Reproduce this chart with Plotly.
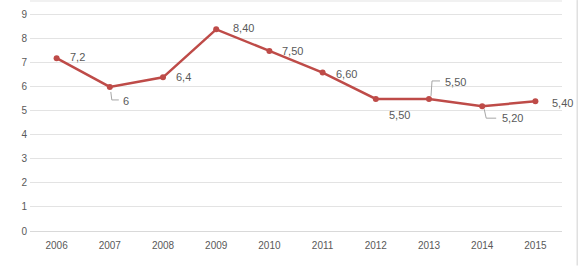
import plotly.graph_objects as go

years = ["2006", "2007", "2008", "2009", "2010", "2011", "2012", "2013", "2014", "2015"]
values = [7.2, 6.0, 6.4, 8.4, 7.5, 6.6, 5.5, 5.5, 5.2, 5.4]
labels = ["7,2", "6", "6,4", "8,40", "7,50", "6,60", "5,50", "5,50", "5,20", "5,40"]
# label offsets in pixels (dx, dy) relative to the point
offsets = [(21, 1), (16, -14), (20, 0), (27, 1), (23, 0), (24, -1), (24, -16), (26, 17), (30, -12), (27, -2)]
leaders = {1: "M 1,-5 L 2,-13 L 9,-13", 7: "M 2,3 L 3,18 L 11,18", 8: "M 2,-3 L 4,-12 L 14,-12"}

LINE = "#BE4B48"
GRID = "#E3E3E3"
TXT = "#595959"

fig = go.Figure()
fig.add_trace(go.Scatter(
    x=years, y=values, mode="lines+markers",
    line=dict(color=LINE, width=2.5),
    marker=dict(color=LINE, size=6),
    hoverinfo="skip",
))

for i, (yr, v, t) in enumerate(zip(years, values, labels)):
    dx, dy = offsets[i]
    fig.add_annotation(x=i, y=v, xref="x", yref="y", text=t, showarrow=False,
                       xshift=dx, yshift=dy, font=dict(size=11, color=TXT, family="Liberation Sans"))
    if i in leaders:
        fig.add_shape(type="path", xref="x", yref="y", xsizemode="pixel", ysizemode="pixel",
                      xanchor=i, yanchor=v, path=leaders[i],
                      line=dict(color="#A6A6A6", width=1))

fig.add_shape(type="line", xref="paper", yref="paper", x0=0, x1=1, y0=1, y1=1,
              line=dict(color=GRID, width=1))
# chart frame edge on the right
fig.add_shape(type="line", xref="paper", yref="paper", x0=1.0285, x1=1.0285, y0=-0.15, y1=1.004,
              line=dict(color="#D0D0D0", width=1))

fig.update_layout(
    width=583, height=266,
    margin=dict(l=30, r=21, t=1, b=35),
    paper_bgcolor="white", plot_bgcolor="white",
    showlegend=False,
    xaxis=dict(type="category", range=[-0.5, len(years) - 0.5], showgrid=False, showline=True,
               linecolor="#D9D9D9",
               tickfont=dict(size=10, color=TXT, family="Liberation Sans"), ticks="",
               ticklabelstandoff=5),
    yaxis=dict(range=[0, 9.58], dtick=1, tick0=0, showgrid=True, gridcolor=GRID, gridwidth=1,
               zeroline=False, tickfont=dict(size=10, color=TXT, family="Liberation Sans"),
               ticks="", ticklabelstandoff=2),
)

fig.write_html("out.html", config={"displayModeBar": False},
               post_script="document.body.style.margin='0';")
